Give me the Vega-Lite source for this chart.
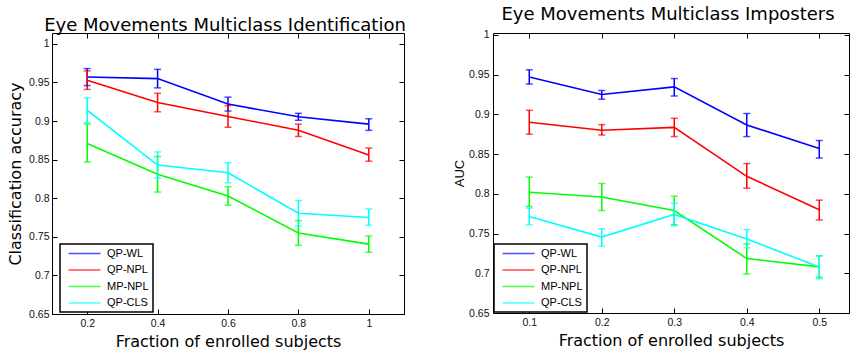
{
  "$schema": "https://vega.github.io/schema/vega-lite/v6.json",
  "autosize": {"type": "pad"},
  "padding": {"left": 7, "top": 5, "right": 1, "bottom": 0},
  "background": "white",
  "datasets": {
    "rows": [
      {"panel": "id", "series": "QP-WL", "x": 0.2, "v": 0.957, "lo": 0.946, "hi": 0.968},
      {"panel": "id", "series": "QP-WL", "x": 0.4, "v": 0.955, "lo": 0.943, "hi": 0.967},
      {"panel": "id", "series": "QP-WL", "x": 0.6, "v": 0.922, "lo": 0.913, "hi": 0.931},
      {"panel": "id", "series": "QP-WL", "x": 0.8, "v": 0.9055, "lo": 0.901, "hi": 0.910},
      {"panel": "id", "series": "QP-WL", "x": 1.0, "v": 0.896, "lo": 0.888, "hi": 0.903},
      {"panel": "id", "series": "QP-NPL", "x": 0.2, "v": 0.953, "lo": 0.941, "hi": 0.965},
      {"panel": "id", "series": "QP-NPL", "x": 0.4, "v": 0.924, "lo": 0.912, "hi": 0.936},
      {"panel": "id", "series": "QP-NPL", "x": 0.6, "v": 0.906, "lo": 0.892, "hi": 0.920},
      {"panel": "id", "series": "QP-NPL", "x": 0.8, "v": 0.888, "lo": 0.880, "hi": 0.896},
      {"panel": "id", "series": "QP-NPL", "x": 1.0, "v": 0.856, "lo": 0.848, "hi": 0.865},
      {"panel": "id", "series": "MP-NPL", "x": 0.2, "v": 0.871, "lo": 0.847, "hi": 0.896},
      {"panel": "id", "series": "MP-NPL", "x": 0.4, "v": 0.831, "lo": 0.808, "hi": 0.854},
      {"panel": "id", "series": "MP-NPL", "x": 0.6, "v": 0.803, "lo": 0.791, "hi": 0.815},
      {"panel": "id", "series": "MP-NPL", "x": 0.8, "v": 0.755, "lo": 0.739, "hi": 0.771},
      {"panel": "id", "series": "MP-NPL", "x": 1.0, "v": 0.7405, "lo": 0.730, "hi": 0.751},
      {"panel": "id", "series": "QP-CLS", "x": 0.2, "v": 0.914, "lo": 0.898, "hi": 0.930},
      {"panel": "id", "series": "QP-CLS", "x": 0.4, "v": 0.843, "lo": 0.826, "hi": 0.860},
      {"panel": "id", "series": "QP-CLS", "x": 0.6, "v": 0.833, "lo": 0.820, "hi": 0.846},
      {"panel": "id", "series": "QP-CLS", "x": 0.8, "v": 0.7805, "lo": 0.764, "hi": 0.797},
      {"panel": "id", "series": "QP-CLS", "x": 1.0, "v": 0.775, "lo": 0.765, "hi": 0.786},
      {"panel": "imp", "series": "QP-WL", "x": 0.1, "v": 0.947, "lo": 0.938, "hi": 0.956},
      {"panel": "imp", "series": "QP-WL", "x": 0.2, "v": 0.925, "lo": 0.919, "hi": 0.930},
      {"panel": "imp", "series": "QP-WL", "x": 0.3, "v": 0.9345, "lo": 0.923, "hi": 0.945},
      {"panel": "imp", "series": "QP-WL", "x": 0.4, "v": 0.8866, "lo": 0.872, "hi": 0.901},
      {"panel": "imp", "series": "QP-WL", "x": 0.5, "v": 0.857, "lo": 0.845, "hi": 0.867},
      {"panel": "imp", "series": "QP-NPL", "x": 0.1, "v": 0.890, "lo": 0.875, "hi": 0.905},
      {"panel": "imp", "series": "QP-NPL", "x": 0.2, "v": 0.880, "lo": 0.874, "hi": 0.887},
      {"panel": "imp", "series": "QP-NPL", "x": 0.3, "v": 0.8835, "lo": 0.872, "hi": 0.895},
      {"panel": "imp", "series": "QP-NPL", "x": 0.4, "v": 0.822, "lo": 0.807, "hi": 0.838},
      {"panel": "imp", "series": "QP-NPL", "x": 0.5, "v": 0.780, "lo": 0.767, "hi": 0.792},
      {"panel": "imp", "series": "MP-NPL", "x": 0.1, "v": 0.802, "lo": 0.784, "hi": 0.821},
      {"panel": "imp", "series": "MP-NPL", "x": 0.2, "v": 0.796, "lo": 0.779, "hi": 0.813},
      {"panel": "imp", "series": "MP-NPL", "x": 0.3, "v": 0.779, "lo": 0.761, "hi": 0.797},
      {"panel": "imp", "series": "MP-NPL", "x": 0.4, "v": 0.7185, "lo": 0.699, "hi": 0.737},
      {"panel": "imp", "series": "MP-NPL", "x": 0.5, "v": 0.708, "lo": 0.695, "hi": 0.722},
      {"panel": "imp", "series": "QP-CLS", "x": 0.1, "v": 0.7715, "lo": 0.761, "hi": 0.782},
      {"panel": "imp", "series": "QP-CLS", "x": 0.2, "v": 0.7455, "lo": 0.734, "hi": 0.756},
      {"panel": "imp", "series": "QP-CLS", "x": 0.3, "v": 0.774, "lo": 0.760, "hi": 0.788},
      {"panel": "imp", "series": "QP-CLS", "x": 0.4, "v": 0.743, "lo": 0.732, "hi": 0.755},
      {"panel": "imp", "series": "QP-CLS", "x": 0.5, "v": 0.708, "lo": 0.693, "hi": 0.722}
    ]
  },
  "spacing": 46,
  "hconcat": [
    {
      "width": 352,
      "height": 281,
      "title": {"text": "Eye Movements Multiclass Identification", "offset": -2, "dx": -3},
      "data": {"name": "rows"},
      "transform": [{"filter": "datum.panel === 'id'"}],
      "encoding": {
        "x": {"field": "x", "type": "quantitative", "scale": {"domain": [0.1, 1.1], "nice": false, "zero": false}},
        "color": {"field": "series", "type": "nominal",
          "scale": {"domain": ["QP-WL", "QP-NPL", "MP-NPL", "QP-CLS"], "range": ["#0000ff", "#ff0000", "#00ff00", "#00ffff"]},
          "legend": {"title": null, "orient": "none", "legendX": 8, "legendY": 211}}
      },
      "layer": [
        {
          "mark": {"type": "line", "strokeWidth": 1.6},
          "encoding": {
            "x": {"field": "x", "type": "quantitative", "axis": {"orient": "bottom", "values": [0.2, 0.4, 0.6, 0.8, 1.0], "format": "~g", "title": "Fraction of enrolled subjects", "labelPadding": 9, "titlePadding": 5}},
            "y": {"field": "v", "type": "quantitative", "scale": {"domain": [0.65, 1.0141], "nice": false, "zero": false},
              "axis": {"orient": "left", "values": [0.65, 0.7, 0.75, 0.8, 0.85, 0.9, 0.95, 1], "format": "~g", "title": "Classification accuracy", "labelPadding": 8, "titlePadding": 5}}
          }
        },
        {
          "mark": {"type": "rule", "strokeWidth": 1.5},
          "encoding": {
            "x": {"field": "x", "type": "quantitative", "axis": {"orient": "top", "values": [0.2, 0.4, 0.6, 0.8, 1.0], "labels": false, "title": null}},
            "y": {"field": "lo", "type": "quantitative", "axis": {"orient": "right", "values": [0.65, 0.7, 0.75, 0.8, 0.85, 0.9, 0.95, 1], "labels": false, "title": null}},
            "y2": {"field": "hi"}
          }
        },
        {
          "mark": {"type": "tick", "orient": "horizontal", "size": 7, "thickness": 1.5},
          "encoding": {
            "x": {"field": "x", "type": "quantitative", "axis": null},
            "y": {"field": "lo", "type": "quantitative", "axis": null}
          }
        },
        {
          "mark": {"type": "tick", "orient": "horizontal", "size": 7, "thickness": 1.5},
          "encoding": {
            "x": {"field": "x", "type": "quantitative", "axis": null},
            "y": {"field": "hi", "type": "quantitative", "axis": null}
          }
        }
      ],
      "resolve": {"axis": {"x": "independent", "y": "independent"}}
    },
    {
      "width": 356,
      "height": 280,
      "title": {"text": "Eye Movements Multiclass Imposters", "offset": 5.5, "dx": -3},
      "data": {"name": "rows"},
      "transform": [{"filter": "datum.panel === 'imp'"}],
      "encoding": {
        "x": {"field": "x", "type": "quantitative", "scale": {"domain": [0.05, 0.541], "nice": false, "zero": false}},
        "color": {"field": "series", "type": "nominal",
          "scale": {"domain": ["QP-WL", "QP-NPL", "MP-NPL", "QP-CLS"], "range": ["#0000ff", "#ff0000", "#00ff00", "#00ffff"]},
          "legend": {"title": null, "orient": "none", "legendX": 1, "legendY": 211}}
      },
      "layer": [
        {
          "mark": {"type": "line", "strokeWidth": 1.6},
          "encoding": {
            "x": {"field": "x", "type": "quantitative", "axis": {"orient": "bottom", "values": [0.1, 0.2, 0.3, 0.4, 0.5], "format": "~g", "title": "Fraction of enrolled subjects", "labelPadding": 9, "titlePadding": 5}},
            "y": {"field": "v", "type": "quantitative", "scale": {"domain": [0.65, 1.0023], "nice": false, "zero": false},
              "axis": {"orient": "left", "values": [0.65, 0.7, 0.75, 0.8, 0.85, 0.9, 0.95, 1], "format": "~g", "title": "AUC", "titleFont": "Liberation Sans", "titleFontSize": 13, "labelPadding": 9, "titlePadding": 2}}
          }
        },
        {
          "mark": {"type": "rule", "strokeWidth": 1.5},
          "encoding": {
            "x": {"field": "x", "type": "quantitative", "axis": {"orient": "top", "values": [0.1, 0.2, 0.3, 0.4, 0.5], "labels": false, "title": null}},
            "y": {"field": "lo", "type": "quantitative", "axis": {"orient": "right", "values": [0.65, 0.7, 0.75, 0.8, 0.85, 0.9, 0.95, 1], "labels": false, "title": null}},
            "y2": {"field": "hi"}
          }
        },
        {
          "mark": {"type": "tick", "orient": "horizontal", "size": 7, "thickness": 1.5},
          "encoding": {
            "x": {"field": "x", "type": "quantitative", "axis": null},
            "y": {"field": "lo", "type": "quantitative", "axis": null}
          }
        },
        {
          "mark": {"type": "tick", "orient": "horizontal", "size": 7, "thickness": 1.5},
          "encoding": {
            "x": {"field": "x", "type": "quantitative", "axis": null},
            "y": {"field": "hi", "type": "quantitative", "axis": null}
          }
        }
      ],
      "resolve": {"axis": {"x": "independent", "y": "independent"}}
    }
  ],
  "resolve": {"scale": {"color": "independent"}, "legend": {"color": "independent"}},
  "config": {
    "view": {"stroke": "black", "strokeWidth": 1},
    "axis": {"domain": false, "grid": false, "tickSize": -5, "tickColor": "black", "tickWidth": 1,
      "labelFont": "Liberation Sans", "labelFontSize": 10.5, "labelColor": "#111111",
      "titleFont": "DejaVu Sans", "titleFontSize": 16, "titleFontWeight": "normal", "titleColor": "black"},
    "title": {"font": "DejaVu Sans", "fontSize": 18, "fontWeight": "normal", "color": "black", "baseline": "alphabetic", "anchor": "middle"},
    "legend": {"padding": 4, "strokeColor": "black", "strokeWidth": 1.5, "fillColor": "white",
      "symbolType": "M-4,0H4", "symbolSize": 64, "symbolStrokeWidth": 1.6, "symbolOffset": 15, "labelOffset": 17,
      "labelFont": "Liberation Sans", "labelFontSize": 11, "labelColor": "black", "rowPadding": 4.5}
  }
}
